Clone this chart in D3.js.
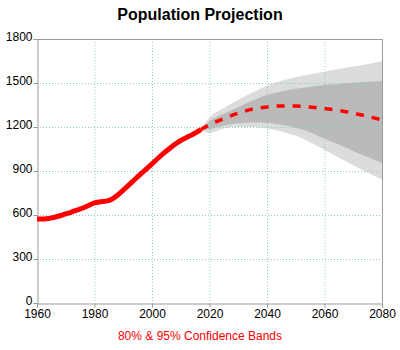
<!DOCTYPE html>
<html>
<head>
<meta charset="utf-8">
<script src="https://cdn.jsdelivr.net/npm/d3@7"></script>
<style>
  body { margin: 0; background: #fff; }
  text { font-family: "Liberation Sans", Arial, sans-serif; }
</style>
</head>
<body>
<div id="chart"></div>
<script>
// 歷史人口
const histYears = [1960, 1962, 1964, 1966, 1968, 1970, 1972, 1974, 1976, 1978, 1980, 1982, 1984, 1986, 1988, 1990, 1992, 1994, 1996, 1998, 2000, 2002, 2004, 2006, 2008, 2010, 2012, 2014, 2016, 2017];
const histValues = [572, 573, 576, 585, 595, 608, 620, 634, 648, 665, 682, 690, 695, 708, 735, 770, 805, 842, 878, 913, 948, 985, 1020, 1052, 1082, 1108, 1128, 1148, 1170, 1183];

// 預測與信賴區間
const fcYears = [2017, 2020, 2025, 2030, 2035, 2040, 2045, 2050, 2055, 2060, 2065, 2070, 2075, 2080];
const fcMean = [1183, 1215, 1258, 1295, 1322, 1337, 1344, 1343, 1336, 1326, 1313, 1295, 1272, 1248];
const hi80 = [1186, 1240, 1290, 1335, 1380, 1418, 1442, 1460, 1475, 1486, 1494, 1502, 1508, 1514];
const lo80 = [1180, 1185, 1210, 1225, 1230, 1228, 1215, 1195, 1165, 1120, 1080, 1035, 995, 952];
const hi95 = [1188, 1265, 1330, 1385, 1435, 1482, 1515, 1540, 1560, 1577, 1595, 1612, 1628, 1650];
const lo95 = [1178, 1160, 1190, 1200, 1200, 1190, 1170, 1140, 1095, 1045, 990, 940, 890, 840];

const xTicks = [1960, 1980, 2000, 2020, 2040, 2060, 2080];
const yTicks = [0, 300, 600, 900, 1200, 1500, 1800];

const width = 400;
const height = 350;
const margin = { top: 39, right: 18, bottom: 47, left: 37 };

const svg = d3.select("#chart")
    .append("svg")
    .attr("width", width)
    .attr("height", height);

const x = d3.scaleLinear()
    .domain([1960, 2080])
    .range([margin.left, width - margin.right]);

const y = d3.scaleLinear()
    .domain([0, 1800])
    .range([height - margin.bottom, margin.top]);

// 標題
svg.append("text")
    .attr("x", 200)
    .attr("y", 20)
    .attr("text-anchor", "middle")
    .attr("font-size", 16)
    .attr("font-weight", "bold")
    .text("Population Projection");

// 信賴區間
const band = (lo, hi) => d3.area()
    .x((d, i) => x(fcYears[i]))
    .y0((d, i) => y(lo[i]))
    .y1((d, i) => y(hi[i]))
    .curve(d3.curveMonotoneX)(fcYears);

svg.append("path").attr("d", band(lo95, hi95)).attr("fill", "#dcdcdc");
svg.append("path").attr("d", band(lo80, hi80)).attr("fill", "#bababa");

// 網格線
svg.append("g")
    .selectAll("line")
    .data(xTicks.slice(1, -1))
    .enter()
    .append("line")
    .attr("x1", d => x(d) + 0.5)
    .attr("x2", d => x(d) + 0.5)
    .attr("y1", y(1800))
    .attr("y2", y(0))
    .attr("stroke", "#8ccaca")
    .attr("stroke-dasharray", "1,2");

svg.append("g")
    .selectAll("line")
    .data(yTicks.slice(1, -1))
    .enter()
    .append("line")
    .attr("x1", x(1960))
    .attr("x2", x(2080))
    .attr("y1", d => Math.round(y(d)) + 0.5)
    .attr("y2", d => Math.round(y(d)) + 0.5)
    .attr("stroke", "#8ccaca")
    .attr("stroke-dasharray", "1,2");

// 外框
svg.append("path")
    .attr("d", `M${x(1960)},${y(1800) + 0.5}H${x(2080) + 0.5}V${y(0)}`)
    .attr("fill", "none")
    .attr("stroke", "#9a9a9a");

// 軸
const xAxis = svg.append("g")
    .attr("transform", `translate(0, ${y(0) + 0.5})`)
    .call(d3.axisBottom(x).tickValues(xTicks).tickFormat(d3.format("d")).tickSize(4).tickPadding(2));

const yAxis = svg.append("g")
    .attr("transform", `translate(${x(1960) + 0.5}, 0)`)
    .call(d3.axisLeft(y).tickValues(yTicks).tickFormat(d3.format("d")).tickSize(4).tickPadding(1));

[xAxis, yAxis].forEach(g => {
    g.select(".domain").attr("stroke", "#9a9a9a");
    g.selectAll(".tick line").attr("stroke", "#9a9a9a");
    g.selectAll("text")
        .attr("font-size", 12)
        .attr("fill", "#000")
        .style("font-family", "'Liberation Sans', Arial, sans-serif");
});
yAxis.selectAll(".tick text").attr("dy", "0.1em");

// 歷史線
svg.append("path")
    .attr("d", d3.line()
        .x((d, i) => x(histYears[i]))
        .y(d => y(d))
        .curve(d3.curveMonotoneX)(histValues))
    .attr("fill", "none")
    .attr("stroke", "#ff0000")
    .attr("stroke-width", 5);

// 預測線
svg.append("path")
    .attr("d", d3.line()
        .x((d, i) => x(fcYears[i]))
        .y(d => y(d))
        .curve(d3.curveMonotoneX)(fcMean))
    .attr("fill", "none")
    .attr("stroke", "#ff0000")
    .attr("stroke-width", 3.5)
    .attr("stroke-dasharray", "8,8");

// 副標
svg.append("text")
    .attr("x", 200)
    .attr("y", 340)
    .attr("text-anchor", "middle")
    .attr("font-size", 12)
    .attr("fill", "#ff0000")
    .text("80% & 95% Confidence Bands");
</script>
</body>
</html>
